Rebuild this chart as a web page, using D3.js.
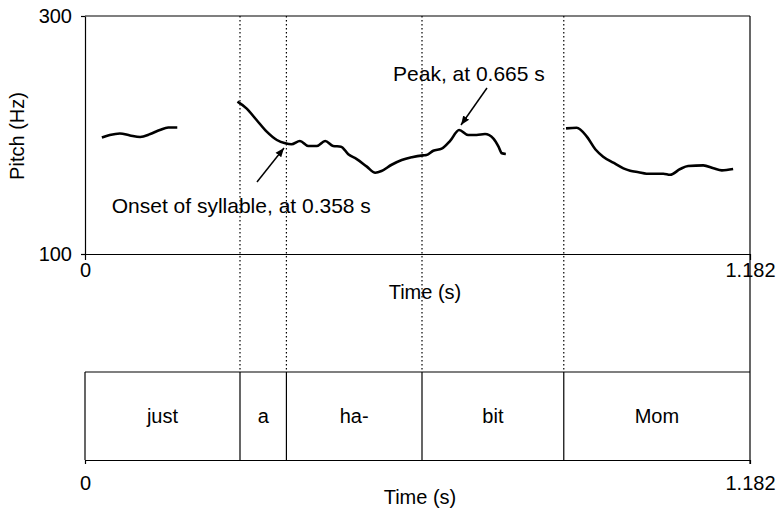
<!DOCTYPE html>
<meta charset="utf-8">
<style>
  body { margin: 0; background: #fff; }
  text { font-family: "Liberation Sans", Arial, sans-serif; font-size: 20px; fill: #000; }
  .note { font-size: 21px; }
  .axis path, .axis line { stroke: #000; stroke-width: 1.2; }
  .axis text { font-family: "Liberation Sans", Arial, sans-serif; font-size: 20px; }
</style>
<script src="https://d3js.org/d3.v7.min.js"></script>
<div id="chart"></div>
<script>
// pitch track, three voiced stretches (time in s, pitch in Hz)
var seg1T = [0.030, 0.044, 0.062, 0.080, 0.098, 0.116, 0.133, 0.148, 0.164];
var seg1Hz = [197.9, 200.0, 201.3, 199.6, 198.3, 200.8, 204.2, 206.3, 206.3];

var seg2T = [0.271, 0.287, 0.305, 0.323, 0.341, 0.356, 0.367, 0.382, 0.397, 0.412,
             0.427, 0.441, 0.455, 0.468, 0.483, 0.501, 0.516, 0.527, 0.545, 0.563,
             0.581, 0.601, 0.607, 0.619, 0.634, 0.649, 0.665, 0.681, 0.696, 0.711,
             0.726, 0.735, 0.741, 0.748];
var seg2Hz = [228.0, 222.4, 212.6, 202.8, 195.8, 193.0, 192.2, 195.0, 190.8, 190.8,
              195.0, 190.8, 190.2, 183.8, 179.8, 173.4, 168.3, 169.7, 175.0, 179.0,
              181.3, 182.9, 183.2, 186.8, 188.5, 195.0, 204.2, 200.0, 200.0, 200.8,
              196.9, 190.2, 184.6, 184.0];

var seg3T = [0.855, 0.874, 0.892, 0.907, 0.921, 0.939, 0.957, 0.969, 0.984, 0.998,
             1.010, 1.028, 1.040, 1.058, 1.072, 1.099, 1.117, 1.132, 1.152];
var seg3Hz = [205.6, 206.1, 198.6, 188.0, 181.8, 176.7, 172.0, 170.0, 168.7, 167.5,
              167.5, 167.5, 166.6, 171.4, 173.9, 174.5, 172.0, 170.3, 171.4];

// word boundaries and labels
var boundaries = [0, 0.2755, 0.358, 0.599, 0.851, 1.182];
var words = ["just", "a", "ha-", "bit", "Mom"];

var timeTicks = [0, 1.182];
var pitchTicks = [100, 300];

var W = 778, H = 510;
var plotL = 85, plotR = 750, plotT = 16, plotB = 254;
var boxTop = 372, boxBottom = 460;

var svg = d3.select("#chart").append("svg")
  .attr("width", W)
  .attr("height", H);

var x = d3.scaleLinear().domain([0, 1.182]).range([plotL, plotR]);
var y = d3.scaleLinear().domain([100, 300]).range([plotB, plotT]);

// dotted boundary lines (only inner ones)
svg.selectAll(".dots")
  .data(boundaries.slice(1, 5))
  .enter().append("line")
  .attr("x1", function(d) { return x(d); })
  .attr("x2", function(d) { return x(d); })
  .attr("y1", plotT)
  .attr("y2", boxTop)
  .attr("stroke", "#000")
  .attr("stroke-width", 1.2)
  .attr("stroke-dasharray", "1.5,2.5");

// upper frame: top line and right side (right side runs down through the box)
svg.append("line").attr("x1", plotL).attr("x2", plotR).attr("y1", plotT).attr("y2", plotT)
  .attr("stroke", "#000").attr("stroke-width", 1.2);
svg.append("line").attr("x1", plotR).attr("x2", plotR).attr("y1", plotT).attr("y2", boxBottom + 4)
  .attr("stroke", "#000").attr("stroke-width", 1.2);

// axes
svg.append("g")
  .attr("class", "axis")
  .attr("transform", "translate(" + plotL + ",0)")
  .call(d3.axisLeft(y).tickValues(pitchTicks).tickSize(4).tickPadding(9).tickSizeOuter(0));

svg.append("g")
  .attr("class", "axis")
  .attr("transform", "translate(0," + plotB + ")")
  .call(d3.axisBottom(x).tickValues(timeTicks).tickFormat(d3.format("")).tickSize(6).tickPadding(3).tickSizeOuter(0));

svg.append("g")
  .attr("class", "axis")
  .attr("transform", "translate(0," + boxBottom + ")")
  .call(d3.axisBottom(x).tickValues(timeTicks).tickFormat(d3.format("")).tickSize(4).tickPadding(12).tickSizeOuter(0));

// axis titles
svg.append("text")
  .attr("x", 425).attr("y", 299)
  .attr("text-anchor", "middle")
  .text("Time (s)");
svg.append("text")
  .attr("x", 420).attr("y", 504)
  .attr("text-anchor", "middle")
  .text("Time (s)");
svg.append("text")
  .attr("transform", "translate(24,136) rotate(-90)")
  .attr("text-anchor", "middle")
  .text("Pitch (Hz)");

// pitch curve
var line = d3.line()
  .x(function(d) { return x(d[0]); })
  .y(function(d) { return y(d[1]); })
  .curve(d3.curveMonotoneX);

[[seg1T, seg1Hz], [seg2T, seg2Hz], [seg3T, seg3Hz]].forEach(function(s) {
  svg.append("path")
    .datum(d3.zip(s[0], s[1]))
    .attr("fill", "none")
    .attr("stroke", "#000")
    .attr("stroke-width", 2.6)
    .attr("stroke-linejoin", "round")
    .attr("d", line);
});

// annotations
svg.append("defs").append("marker")
  .attr("id", "head")
  .attr("viewBox", "0 0 10 10")
  .attr("refX", 10).attr("refY", 5)
  .attr("markerWidth", 9).attr("markerHeight", 9)
  .attr("markerUnits", "userSpaceOnUse")
  .attr("orient", "auto")
  .append("path")
  .attr("d", "M0,1 L10,5 L0,9 Z")
  .attr("fill", "#000");

var notes = [
  {text: "Onset of syllable, at 0.358 s", tx: 0.0475, ty: 134.5, from: [0.3057, 160.5], to: [0.3537, 189.1]},
  {text: "Peak, at 0.665 s", tx: 0.5475, ty: 245.4, from: [0.7145, 239.5], to: [0.6683, 208.4]}
];

notes.forEach(function(n) {
  svg.append("line")
    .attr("x1", x(n.from[0])).attr("y1", y(n.from[1]))
    .attr("x2", x(n.to[0])).attr("y2", y(n.to[1]))
    .attr("stroke", "#000")
    .attr("stroke-width", 1.5)
    .attr("marker-end", "url(#head)");
  svg.append("text")
    .attr("class", "note")
    .attr("x", x(n.tx)).attr("y", y(n.ty))
    .text(n.text);
});

// word tier box
svg.append("line").attr("x1", plotL).attr("x2", plotR).attr("y1", boxTop).attr("y2", boxTop)
  .attr("stroke", "#000").attr("stroke-width", 1.2);
svg.append("line").attr("x1", plotL).attr("x2", plotL).attr("y1", boxTop).attr("y2", boxBottom)
  .attr("stroke", "#000").attr("stroke-width", 1.2);

svg.selectAll(".bound")
  .data(boundaries.slice(1, 5))
  .enter().append("line")
  .attr("x1", function(d) { return x(d); })
  .attr("x2", function(d) { return x(d); })
  .attr("y1", boxTop)
  .attr("y2", boxBottom)
  .attr("stroke", "#000")
  .attr("stroke-width", 1.2);

svg.selectAll(".word")
  .data(words)
  .enter().append("text")
  .attr("x", function(d, i) { return (x(boundaries[i]) + x(boundaries[i + 1])) / 2; })
  .attr("y", (boxTop + boxBottom) / 2 + 7)
  .attr("text-anchor", "middle")
  .text(function(d) { return d; });
</script>
